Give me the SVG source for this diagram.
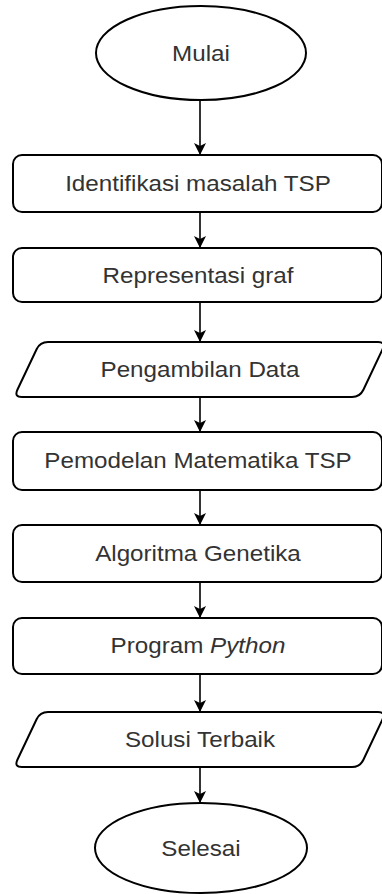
<svg xmlns="http://www.w3.org/2000/svg" width="382" height="894" viewBox="0 0 382 894">
  <style>
    .shape { fill: #ffffff; stroke: #000000; stroke-width: 2; }
    .label { font-family: "Liberation Sans", Arial, sans-serif; font-size: 22px; fill: #333333; text-anchor: middle; }
    .edge { stroke: #000000; stroke-width: 1.6; fill: none; marker-end: url(#arrow); }
  </style>
  <defs>
    <marker id="arrow" markerUnits="userSpaceOnUse" markerWidth="13" markerHeight="13" refX="12" refY="6.5" orient="auto">
      <path d="M0,0.5 L12,6.5 L0,12.5 L3,6.5 Z" fill="#000000"/>
    </marker>
    <!-- rounded parallelogram used for data (input/output) steps -->
    <path id="para" d="M22,55 Q14,55 17.4,47.8 L36.6,7.2 Q40,0 48,0 L378,0 Q386,0 382.6,7.2 L363.4,47.8 Q360,55 352,55 Z"/>
  </defs>

  <rect width="382" height="894" fill="#ffffff"/>

  <g id="connectors">
    <line class="edge" x1="200" y1="100" x2="200" y2="155"/>
    <line class="edge" x1="200" y1="212" x2="200" y2="248"/>
    <line class="edge" x1="200" y1="302" x2="200" y2="342"/>
    <line class="edge" x1="200" y1="397" x2="200" y2="432"/>
    <line class="edge" x1="200" y1="490" x2="200" y2="525"/>
    <line class="edge" x1="200" y1="582" x2="200" y2="618"/>
    <line class="edge" x1="200" y1="674" x2="200" y2="712"/>
    <line class="edge" x1="200" y1="768" x2="200" y2="803"/>
  </g>

  <g id="mulai">
    <ellipse class="shape" cx="201" cy="53" rx="105" ry="47"/>
    <text class="label" transform="translate(201,61) scale(1.1,1)">Mulai</text>
  </g>

  <g id="identifikasi">
    <rect class="shape" x="13" y="155" width="369" height="57" rx="9"/>
    <text class="label" transform="translate(198,191) scale(1.1,1)">Identifikasi masalah TSP</text>
  </g>

  <g id="representasi">
    <rect class="shape" x="13" y="248" width="369" height="54" rx="9"/>
    <text class="label" transform="translate(198,283) scale(1.1,1)">Representasi graf</text>
  </g>

  <g id="pengambilan-data">
    <use href="#para" class="shape" transform="translate(0,342)"/>
    <text class="label" transform="translate(200,377) scale(1.1,1)">Pengambilan Data</text>
  </g>

  <g id="pemodelan">
    <rect class="shape" x="13" y="432" width="369" height="58" rx="9"/>
    <text class="label" transform="translate(198,468) scale(1.1,1)">Pemodelan Matematika TSP</text>
  </g>

  <g id="algoritma-genetika">
    <rect class="shape" x="13" y="525" width="369" height="57" rx="9"/>
    <text class="label" transform="translate(198,561) scale(1.1,1)">Algoritma Genetika</text>
  </g>

  <g id="program-python">
    <rect class="shape" x="13" y="618" width="369" height="56" rx="9"/>
    <text class="label" transform="translate(198,653) scale(1.1,1)">Program <tspan font-style="italic">Python</tspan></text>
  </g>

  <g id="solusi-terbaik">
    <use href="#para" class="shape" transform="translate(0,712)"/>
    <text class="label" transform="translate(200,747) scale(1.1,1)">Solusi Terbaik</text>
  </g>

  <g id="selesai">
    <ellipse class="shape" cx="201" cy="848" rx="106" ry="45"/>
    <text class="label" transform="translate(201,856) scale(1.1,1)">Selesai</text>
  </g>
</svg>
